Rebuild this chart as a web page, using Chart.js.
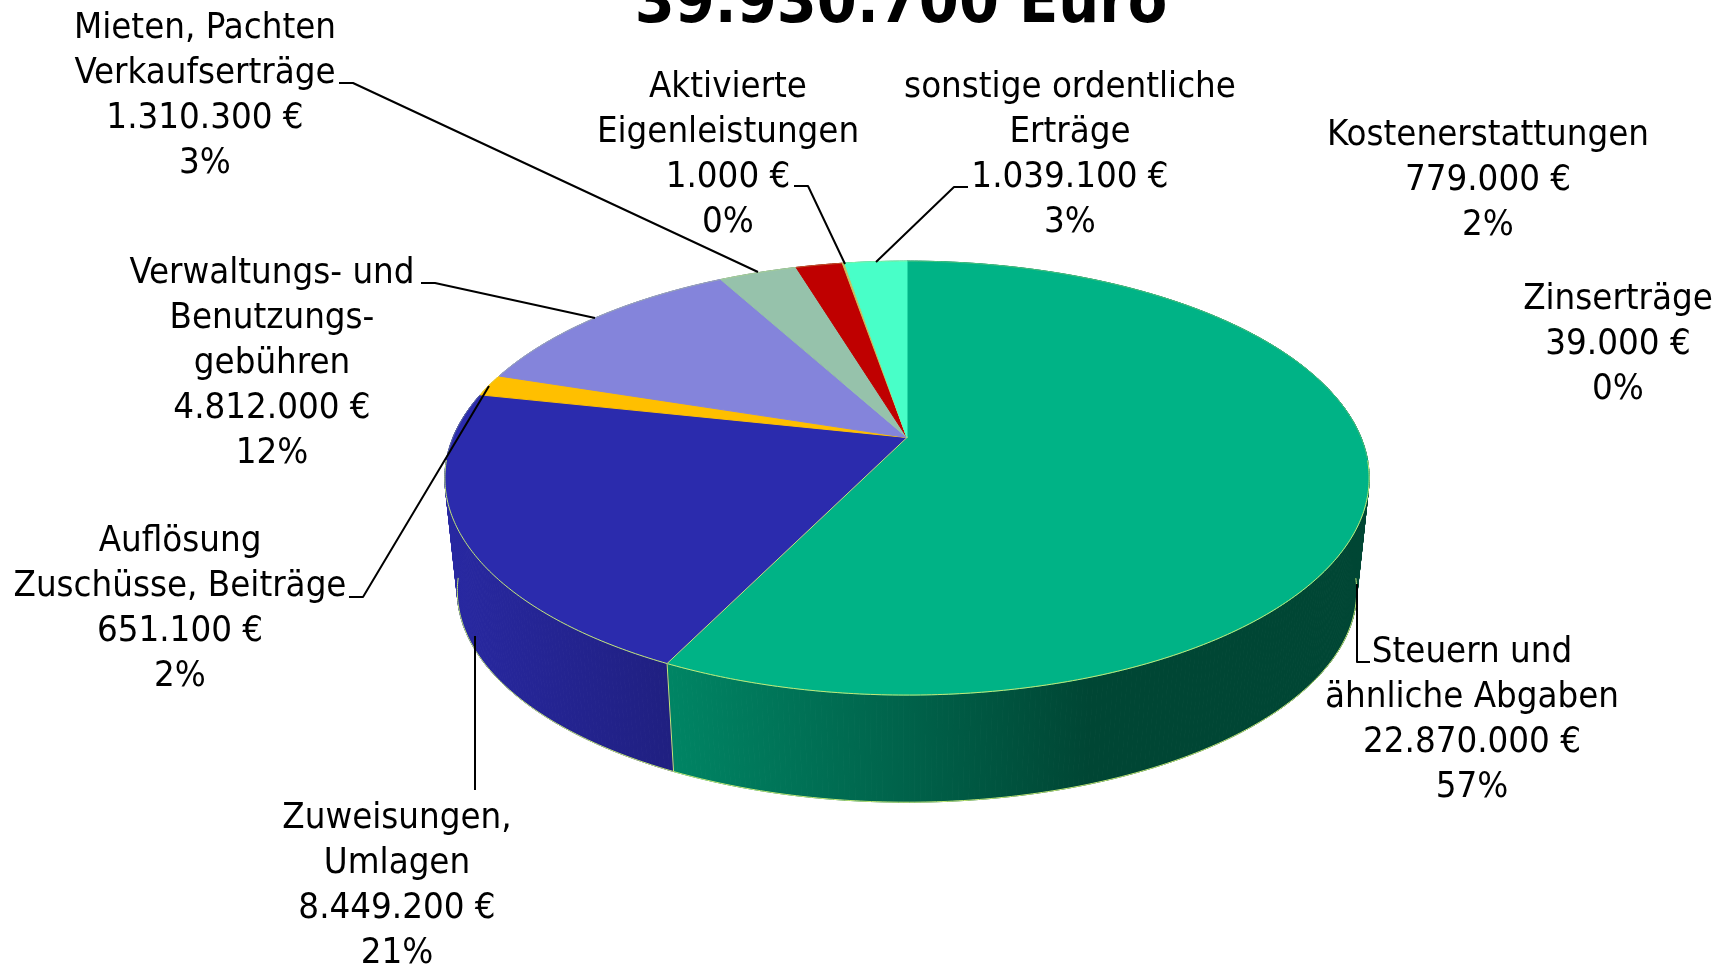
<!DOCTYPE html>
<html lang="de"><head><meta charset="utf-8">
<style>html,body{margin:0;padding:0;background:#fff;overflow:hidden}#w{width:1719px;height:967px;position:relative}</style>
<script src="https://cdn.jsdelivr.net/npm/chart.js@4/dist/chart.umd.js"></script>
</head><body><div id="w"><canvas id="c"></canvas></div>
<script>
// ---- data ----
const titleText = "39.930.700 Euro";
const categories = [
  ["Steuern und","ähnliche Abgaben"],
  ["Zuweisungen,","Umlagen"],
  ["Auflösung","Zuschüsse, Beiträge"],
  ["Verwaltungs- und","Benutzungs-","gebühren"],
  ["Mieten, Pachten","Verkaufserträge"],
  ["Kostenerstattungen"],
  ["Zinserträge"],
  ["Aktivierte","Eigenleistungen"],
  ["sonstige ordentliche","Erträge"]
];
const values = [22870000,8449200,651100,4812000,1310300,779000,39000,1000,1039100];
const percents = [57,21,2,12,3,2,0,0,3];
const colors = ["#00B386","#2B2BAD","#FFBF00","#8484DB","#96C2AB","#BF0000","#C8C060","#C8C060","#48FFC8"];

// ---- label layout (centre x, first line y, leader polyline) ----
const labelLayout = [
  {x:1472,y:652.5,leader:[[1370,662],[1357,662],[1357,584]]},
  {x:397, y:818.5,leader:[[475,790],[475,636]]},
  {x:180, y:541.5,leader:[[349,597],[363,597],[489,386]]},
  {x:272, y:273.5,leader:[[421,283],[435,283],[595,318]]},
  {x:205, y:28.5, leader:[[339,83],[353,83],[758,272]]},
  {x:1488,y:135.5,leader:null},
  {x:1618,y:299.5,leader:null},
  {x:728, y:87.5, leader:[[794,186],[808,186],[845,264]]},
  {x:1070,y:87.5, leader:[[968,187],[954,187],[876,262]]}
];
const linePitch = 45, labelFont = '36.3px "DejaVu Sans Condensed","DejaVu Sans",sans-serif';

// ---- projection of the pie plane ----
const persp = {kx:454/437.5, ky:209.4/437.5, q:0.187, s:0.973, depthY:551.6-437.5};
function rim(el,a,bottom){
  const w = 1 - persp.q*Math.sin(a);
  const dx = el.outerRadius*persp.kx*Math.cos(a)/w, dy = el.outerRadius*persp.ky*Math.sin(a)/w;
  if(bottom) return [el.x+persp.s*dx, el.y+persp.depthY+persp.s*dy];
  return [el.x+dx, el.y+dy];
}
function angles(el){
  const n = Math.max(2,Math.ceil((el.endAngle-el.startAngle)/0.01)), out=[];
  for(let i=0;i<=n;i++) out.push(el.startAngle+(el.endAngle-el.startAngle)*i/n);
  return out;
}
function shade(hex,f){
  const n=parseInt(hex.slice(1),16);
  return `rgb(${Math.round((n>>16&255)*f)},${Math.round((n>>8&255)*f)},${Math.round((n&255)*f)})`;
}
const edge = "rgb(196,232,120)", edgeBack = "rgba(196,232,120,0.35)";
function strokeRim(ctx,el,as,bottom,test,style){
  ctx.beginPath(); let on=false;
  as.forEach(a=>{ if(!test(Math.sin(a))){on=false;return;}
    const p=rim(el,a,bottom); on?ctx.lineTo(p[0],p[1]):ctx.moveTo(p[0],p[1]); on=true;});
  ctx.strokeStyle=style; ctx.lineWidth=1; ctx.stroke();
}
// top face of each slice: drawn by the library's arc element from its own angles
Chart.ArcElement.prototype.draw = function(ctx){
  const as = angles(this);
  ctx.save();
  ctx.beginPath();
  ctx.moveTo(this.x,this.y);
  as.forEach(a=>{const p=rim(this,a);ctx.lineTo(p[0],p[1]);});
  ctx.closePath();
  ctx.fillStyle = this.options.backgroundColor;
  ctx.fill();
  ctx.lineWidth = 1; ctx.lineJoin="round";
  ctx.strokeStyle = this.options.backgroundColor; ctx.stroke();
  strokeRim(ctx,this,as,false,s=>s<=0.1,edgeBack);
  strokeRim(ctx,this,as,false,s=>s>=0.1,edge);
  ctx.restore();
};
const walls = {
  id:"walls",
  beforeDatasetsDraw(chart){
    const ctx=chart.ctx, meta=chart.getDatasetMeta(0);
    const first=meta.data[0]; const l=rim(first,Math.PI,false)[0], r=rim(first,0,false)[0];
    meta.data.forEach((el,i)=>{
      const g=ctx.createLinearGradient(l,0,r,0), c=colors[i];
      [[0,.93],[.23,.75],[.5,.55],[.7,.39],[1,.39]].forEach(s=>g.addColorStop(s[0],shade(c,s[1])));
      const as=angles(el);
      ctx.save();
      ctx.fillStyle=g; ctx.strokeStyle=g; ctx.lineWidth=1;
      for(let k=0;k<as.length-1;k++){
        const p=[rim(el,as[k]),rim(el,as[k+1]),rim(el,as[k+1],true),rim(el,as[k],true)];
        ctx.beginPath(); p.forEach((q,j)=>j?ctx.lineTo(q[0],q[1]):ctx.moveTo(q[0],q[1])); ctx.closePath();
        ctx.fill(); ctx.stroke();
      }
      strokeRim(ctx,el,as,true,s=>s>=0.12,edge);
      if(Math.sin(el.startAngle)>0.2){const t=rim(el,el.startAngle),b=rim(el,el.startAngle,true);
        ctx.strokeStyle=edge;ctx.beginPath();ctx.moveTo(t[0],t[1]);ctx.lineTo(b[0],b[1]);ctx.stroke();}
      ctx.restore();
    });
  },
  afterDatasetsDraw(chart){
    const ctx=chart.ctx;
    ctx.save();
    // the boundary between green and blue is bright on the top face
    const el=chart.getDatasetMeta(0).data[1], p=rim(el,el.startAngle);
    ctx.strokeStyle=edge; ctx.lineWidth=1;
    ctx.beginPath(); ctx.moveTo(el.x,el.y); ctx.lineTo(p[0],p[1]); ctx.stroke();
    // leaders
    ctx.strokeStyle="#000"; ctx.lineWidth=2; ctx.lineJoin="round";
    labelLayout.forEach(o=>{ if(!o.leader) return;
      ctx.beginPath(); o.leader.forEach((q,i)=>i?ctx.lineTo(q[0],q[1]):ctx.moveTo(q[0],q[1])); ctx.stroke();});
    // labels
    ctx.fillStyle="#000"; ctx.textAlign="center"; ctx.textBaseline="middle"; ctx.font=labelFont;
    const fmt=new Intl.NumberFormat("de-DE");
    categories.forEach((lines,i)=>{
      const all=lines.concat([fmt.format(values[i])+" €",percents[i]+"%"]), o=labelLayout[i];
      all.forEach((t,k)=>ctx.fillText(t,o.x,o.y+k*linePitch));
    });
    // title, running off the top of the page as in the reference
    ctx.font='bold 64px "DejaVu Sans Condensed","DejaVu Sans",sans-serif';
    ctx.textBaseline="alphabetic";
    ctx.fillText(titleText,901,22);
    ctx.restore();
  }
};
new Chart(document.getElementById("c"),{
  type:"pie",
  data:{labels:categories.map(c=>c.join(" ")),datasets:[{data:values,backgroundColor:colors,borderWidth:0,clip:false}]},
  options:{responsive:true,maintainAspectRatio:false,animation:false,events:[],
    layout:{padding:{left:95,right:0,top:0,bottom:92}},
    plugins:{legend:{display:false},tooltip:{enabled:false},title:{display:false}}},
  plugins:[walls]
});
</script></body></html>
